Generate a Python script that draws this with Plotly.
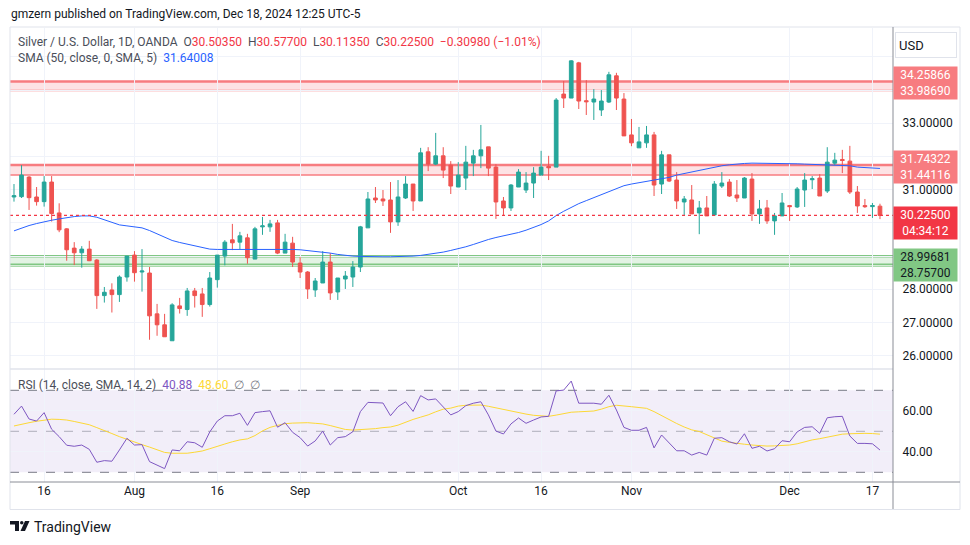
import plotly.graph_objects as go
import pandas as pd

# ---------------- data ----------------
dates = pd.bdate_range("2024-07-10", "2024-12-18")

opens = [30.78, 30.79, 31.38, 30.78, 30.64, 31.23, 30.30, 29.82, 29.24, 29.10,
         29.21, 28.88, 27.81, 27.98, 27.84, 28.37, 29.03, 28.52, 28.49, 27.26,
         26.93, 26.45, 27.50, 27.39, 27.95, 27.86, 27.54, 28.29, 29.00, 29.49,
         29.42, 29.55, 28.91, 29.88, 29.88, 30.00, 29.09, 29.39, 28.79, 28.52,
         27.98, 28.19, 28.82, 27.92, 28.31, 28.37, 28.67, 29.85, 30.75, 30.72,
         30.69, 30.03, 30.75, 31.17, 30.66, 32.14, 31.77, 32.02, 31.74, 31.08,
         31.35, 31.80, 32.02, 32.29, 31.68, 30.66, 30.45, 31.08, 30.99, 31.20,
         31.44, 31.70, 31.68, 33.88, 33.76, 34.82, 33.68, 33.64, 33.40, 33.64,
         34.43, 33.73, 32.65, 32.26, 32.41, 32.65, 31.17, 32.05, 31.29, 30.63,
         30.69, 30.30, 30.45, 30.24, 31.11, 31.23, 30.84, 30.75, 31.32, 30.27,
         30.45, 30.06, 30.21, 30.52, 30.48, 30.99, 31.30, 31.35, 30.96, 31.80,
         31.91, 31.86, 30.93, 30.52, 30.49, 30.5035]
highs = [31.17, 31.74, 31.41, 31.08, 31.41, 31.41, 30.59, 29.84, 29.42, 29.30,
         29.46, 28.91, 28.07, 28.18, 28.42, 29.00, 29.15, 29.21, 28.67, 27.56,
         27.26, 27.58, 27.74, 28.04, 28.04, 28.04, 28.52, 29.03, 29.48, 29.97,
         29.73, 29.67, 29.88, 30.18, 30.09, 30.09, 29.67, 29.58, 28.97, 28.55,
         28.34, 29.15, 29.09, 28.34, 28.55, 28.85, 29.91, 30.93, 31.08, 30.99,
         31.23, 31.29, 31.41, 31.17, 32.26, 32.28, 32.71, 32.28, 31.86, 31.83,
         32.32, 32.20, 32.95, 32.29, 31.77, 30.78, 31.17, 31.62, 31.53, 31.68,
         32.17, 32.02, 33.76, 34.27, 34.90, 34.85, 34.30, 34.03, 34.00, 34.55,
         34.52, 33.91, 33.13, 32.89, 32.92, 32.74, 32.17, 32.05, 31.53, 30.81,
         31.14, 30.66, 30.81, 31.26, 31.53, 31.32, 31.29, 31.38, 31.50, 30.69,
         30.69, 30.30, 30.90, 30.54, 31.08, 31.50, 31.41, 31.47, 32.28, 32.11,
         32.20, 32.32, 31.11, 30.72, 30.60, 30.577]
lows = [30.64, 30.75, 30.39, 30.52, 30.49, 30.04, 29.72, 28.86, 28.73, 28.65,
        28.85, 27.41, 27.60, 27.30, 27.62, 28.23, 28.23, 27.93, 26.48, 26.60,
        26.57, 26.45, 27.27, 27.20, 27.45, 27.17, 27.48, 28.05, 28.72, 29.18,
        29.21, 28.77, 28.91, 29.64, 29.73, 29.06, 29.09, 28.67, 28.34, 27.71,
        27.77, 28.19, 27.68, 27.68, 28.01, 28.07, 28.52, 29.85, 30.60, 30.51,
        29.70, 29.91, 30.72, 30.36, 30.66, 31.56, 31.74, 31.35, 30.87, 31.08,
        30.99, 31.41, 31.65, 31.41, 30.12, 30.21, 30.36, 31.08, 30.90, 30.75,
        31.44, 31.29, 31.68, 33.46, 33.76, 33.43, 33.25, 33.10, 33.22, 33.61,
        33.40, 32.62, 32.31, 32.26, 32.26, 30.81, 30.87, 31.23, 30.42, 30.21,
        30.27, 29.66, 30.21, 30.24, 31.05, 30.78, 30.63, 30.75, 30.06, 29.97,
        29.97, 29.64, 30.21, 30.06, 30.45, 30.48, 31.02, 30.81, 30.90, 31.74,
        31.50, 30.87, 30.30, 30.45, 30.15, 30.1135]
closes = [30.82, 31.44, 30.76, 30.64, 31.23, 30.28, 29.79, 29.19, 29.10, 29.21,
          28.86, 27.81, 27.91, 27.84, 28.37, 29.00, 28.50, 28.55, 27.20, 26.93,
          26.57, 27.53, 27.42, 27.95, 27.81, 27.54, 28.34, 29.03, 29.42, 29.40,
          29.61, 28.95, 29.82, 29.91, 29.97, 29.09, 29.42, 28.82, 28.52, 28.01,
          28.25, 28.82, 27.89, 28.34, 28.40, 28.67, 29.88, 30.72, 30.69, 30.66,
          30.03, 30.78, 31.17, 30.66, 32.11, 31.77, 32.02, 31.59, 31.11, 31.44,
          31.83, 32.02, 32.20, 31.65, 30.63, 30.45, 31.14, 31.53, 31.20, 31.50,
          31.68, 31.66, 33.70, 33.76, 34.88, 33.67, 33.65, 33.73, 33.67, 34.46,
          33.76, 32.62, 32.41, 32.44, 32.65, 31.14, 32.05, 31.26, 30.66, 30.72,
          30.27, 30.45, 30.21, 31.17, 31.20, 30.81, 30.75, 31.35, 30.27, 30.42,
          30.06, 30.21, 30.60, 30.49, 31.02, 31.29, 31.33, 30.81, 31.83, 31.89,
          31.88, 30.93, 30.51, 30.49, 30.52, 30.225]

sma50 = [29.76, 29.85, 29.92, 29.98, 30.04, 30.08, 30.12, 30.16, 30.19, 30.21,
         30.21, 30.17, 30.10, 30.02, 29.94, 29.91, 29.88, 29.85, 29.77, 29.67,
         29.55, 29.47, 29.41, 29.36, 29.30, 29.25, 29.21, 29.20, 29.20, 29.21,
         29.21, 29.22, 29.22, 29.22, 29.22, 29.21, 29.21, 29.20, 29.19, 29.17,
         29.15, 29.12, 29.09, 29.05, 29.02, 29.00, 28.99, 28.98, 28.98, 28.98,
         28.98, 28.98, 28.99, 29.00, 29.02, 29.05, 29.08, 29.12, 29.17, 29.22,
         29.28, 29.35, 29.43, 29.50, 29.56, 29.61, 29.65, 29.71, 29.78, 29.86,
         29.95, 30.06, 30.22, 30.35, 30.47, 30.58, 30.67, 30.76, 30.85, 30.95,
         31.05, 31.12, 31.17, 31.21, 31.24, 31.27, 31.31, 31.37, 31.44, 31.49,
         31.54, 31.58, 31.63, 31.68, 31.72, 31.75, 31.78, 31.79, 31.80, 31.80,
         31.80, 31.80, 31.79, 31.79, 31.78, 31.77, 31.76, 31.75, 31.75, 31.74,
         31.74, 31.72, 31.68, 31.66, 31.65, 31.64008]

rsi = [58.3, 62.3, 56.0, 55.0, 59.1, 51.0, 47.4, 43.2, 42.7, 43.3,
       41.2, 34.9, 35.7, 35.4, 40.9, 46.6, 43.3, 43.5, 35.2, 33.6,
       31.8, 40.9, 40.5, 44.9, 44.4, 42.2, 49.7, 55.0, 57.6, 57.6,
       58.8, 52.9, 59.1, 59.6, 60.0, 52.0, 54.2, 49.5, 46.9, 42.8,
       45.3, 50.1, 43.3, 46.9, 47.4, 49.8, 59.6, 64.1, 64.1, 63.8,
       57.6, 62.0, 64.4, 59.7, 67.4, 65.3, 65.8, 62.0, 58.0, 59.6,
       62.5, 63.7, 64.4, 58.0, 50.1, 48.7, 53.6, 56.5, 53.9, 55.5,
       57.0, 57.3, 69.7, 70.1, 74.5, 63.7, 63.7, 63.7, 63.2, 67.6,
       60.4, 51.9, 50.5, 50.5, 51.9, 41.9, 48.2, 44.1, 40.5, 40.5,
       38.4, 39.7, 38.4, 46.6, 46.9, 44.9, 43.8, 48.8, 41.7, 42.7,
       40.4, 41.5, 45.4, 44.9, 49.7, 51.9, 52.2, 49.0, 56.6, 57.1,
       57.3, 47.7, 44.1, 44.1, 43.9, 40.88]

rsi_sma = [52.6, 53.5, 54.2, 54.9, 55.5, 55.9, 55.8, 55.5, 54.8, 54.0,
           53.2, 51.8, 50.2, 48.9, 47.4, 46.0, 44.6, 43.5, 42.3, 41.0,
           39.7, 39.3, 39.3, 39.3, 39.8, 40.4, 41.5, 42.8, 43.8, 44.9,
           45.8, 46.3, 47.9, 50.2, 51.9, 52.9, 53.7, 54.0, 54.2, 54.2,
           53.9, 53.6, 52.8, 51.8, 50.9, 50.6, 50.8, 51.0, 51.3, 51.8,
           52.1, 53.0, 54.5, 55.8, 56.9, 58.0, 59.5, 60.8, 61.3, 62.3,
           62.7, 62.8, 62.8, 62.2, 61.4, 60.7, 60.0, 59.1, 58.4, 57.8,
           57.4, 57.3, 57.9, 58.6, 59.3, 59.5, 59.6, 59.9, 60.8, 62.0,
           62.7, 62.5, 62.0, 61.6, 61.2, 59.6, 57.6, 55.6, 53.8, 52.1,
           50.7, 49.9, 48.3, 46.5, 45.2, 44.6, 44.0, 43.7, 43.3, 42.9,
           42.8, 42.9, 43.1, 43.3, 43.9, 45.0, 45.8, 46.4, 47.2, 48.0,
           48.6, 48.8, 49.0, 49.0, 48.9, 48.60]

tick_dates = ["2024-07-16", "2024-08-01", "2024-08-16", "2024-09-02", "2024-10-01",
              "2024-10-16", "2024-11-01", "2024-12-02", "2024-12-17"]
tick_labels = ["16", "Aug", "16", "Sep", "Oct", "16", "Nov", "Dec", "17"]

price_ticks = [26, 27, 28, 29, 30, 31, 32, 33, 34, 35]
price_tick_labels = ["26.00000", "27.00000", "28.00000", "", "", "31.00000", "", "33.00000", "", ""]
rsi_ticks = [40, 60]
rsi_tick_labels = ["40.00", "60.00"]
rsi_levels = [70, 50, 30]

resist_hi = [34.25866, 33.98690]
resist_mid = [31.74322, 31.44116]
support = [28.99681, 28.75700]
countdown = "04:34:12"
sma_value = "31.64008"
change_text = "\u22120.30980 (\u22121.01%)"

# ---------------- layout helpers ----------------
W, H = 970, 545
L, R, T, B = 10, 893, 28, 482
PX_PER_UNIT = 33.2
def px(x):
    return (x - L) / (R - L)
def py(y):
    return (B - y) / (B - T)

idx = list(range(len(dates)))
date_str = [d.strftime("%Y-%m-%d") for d in dates]
tickvals = [date_str.index(d) for d in tick_dates]

GREEN = "#26a69a"
RED = "#ef5350"
PINK = "#f77c80"
LGREEN = "#81c784"
TXT = "#131722"
GRID = "#f0f3fa"
FONT = "Roboto"

split = py(370)

fig = go.Figure()
fig.add_trace(go.Candlestick(
    x=idx, open=opens, high=highs, low=lows, close=closes,
    increasing=dict(line=dict(color=GREEN, width=1), fillcolor=GREEN),
    decreasing=dict(line=dict(color=RED, width=1), fillcolor=RED),
    whiskerwidth=0, xaxis="x", yaxis="y", showlegend=False, hoverinfo="skip"))
fig.add_trace(go.Scatter(x=idx, y=sma50, mode="lines", line=dict(color="#2962ff", width=1),
                         xaxis="x", yaxis="y", showlegend=False, hoverinfo="skip"))
fig.add_trace(go.Scatter(x=idx, y=rsi_sma, mode="lines", line=dict(color="#fdd835", width=1),
                         xaxis="x", yaxis="y2", showlegend=False, hoverinfo="skip"))
fig.add_trace(go.Scatter(x=idx, y=rsi, mode="lines", line=dict(color="#7e57c2", width=1),
                         xaxis="x", yaxis="y2", showlegend=False, hoverinfo="skip"))

shapes = []
# zones
for lv, fillc, linec in [(resist_hi, "rgba(242,54,69,0.14)", PINK),
                         (resist_mid, "rgba(242,54,69,0.14)", PINK),
                         (support, "rgba(129,199,132,0.22)", LGREEN)]:
    shapes.append(dict(type="rect", xref="x domain", yref="y", x0=0, x1=1, y0=lv[1], y1=lv[0],
                       fillcolor=fillc, line=dict(width=0), layer="below"))
    shapes.append(dict(type="line", xref="x domain", yref="y", x0=0, x1=1, y0=lv[0], y1=lv[0],
                       line=dict(color=linec, width=2.5), layer="below"))
    shapes.append(dict(type="line", xref="x domain", yref="y", x0=0, x1=1, y0=lv[1], y1=lv[1],
                       line=dict(color=linec, width=1.5), layer="below"))
extra = support[1] - 2 / PX_PER_UNIT
shapes.append(dict(type="line", xref="x domain", yref="y", x0=0, x1=1, y0=extra, y1=extra,
                   line=dict(color=LGREEN, width=1), layer="below"))
# last price dotted line
shapes.append(dict(type="line", xref="x domain", yref="y", x0=0, x1=1, y0=closes[-1], y1=closes[-1],
                   line=dict(color="#f23645", width=1.2, dash="dot"), layer="above"))
# RSI band
shapes.append(dict(type="rect", xref="x domain", yref="y2", x0=0, x1=1, y0=rsi_levels[2], y1=rsi_levels[0],
                   fillcolor="rgba(126,87,194,0.1)", line=dict(width=0), layer="below"))
for lv, c in zip(rsi_levels, ["#787b86", "rgba(120,123,134,0.55)", "#787b86"]):
    shapes.append(dict(type="line", xref="x domain", yref="y2", x0=0, x1=1, y0=lv, y1=lv,
                       line=dict(color=c, width=1, dash="dash"), layer="below"))
# frame lines
shapes.append(dict(type="rect", xref="paper", yref="paper", x0=px(10), x1=px(960), y0=py(509.5), y1=py(27),
                   line=dict(color="#e0e3eb", width=1), layer="above"))
shapes.append(dict(type="line", xref="paper", yref="paper", x0=px(10), x1=px(893), y0=py(369), y1=py(369),
                   line=dict(color="#e0e3eb", width=1.5), layer="above"))
shapes.append(dict(type="line", xref="paper", yref="paper", x0=px(893), x1=px(893), y0=py(509), y1=py(27),
                   line=dict(color="#8a8d96", width=1), layer="above"))
shapes.append(dict(type="line", xref="paper", yref="paper", x0=px(10), x1=px(960), y0=py(482), y1=py(482),
                   line=dict(color="#8a8d96", width=1), layer="above"))
# TradingView logo glyph
shapes.append(dict(type="path", xref="paper", yref="paper",
                   path=f"M {px(10)},{py(521)} L {px(19)},{py(521)} L {px(19)},{py(531)} L {px(15)},{py(531)} L {px(15)},{py(524.5)} L {px(10)},{py(524.5)} Z",
                   fillcolor="#131722", line=dict(width=0)))
shapes.append(dict(type="circle", xref="paper", yref="paper", x0=px(20), x1=px(23.5), y0=py(521), y1=py(524.5),
                   fillcolor="#131722", line=dict(width=0)))
shapes.append(dict(type="path", xref="paper", yref="paper",
                   path=f"M {px(25)},{py(521)} L {px(29.5)},{py(521)} L {px(25)},{py(531)} L {px(20.5)},{py(531)} Z",
                   fillcolor="#131722", line=dict(width=0)))

annotations = []
def ann(x, y, text, size=12, color=TXT, anchor="left", **kw):
    d = dict(xref="paper", yref="paper", x=px(x), y=py(y), text=text, showarrow=False,
             xanchor=anchor, yanchor="middle", font=dict(family=FONT, size=size, color=color))
    d.update(kw)
    annotations.append(d)

sp = "\u00a0"
redspan = lambda t: f'<span style="color:#f23645">{t}</span>'
ann(9, 14, "gmzern published on TradingView.com, Dec 18, 2024 12:25 UTC-5", size=12)
leg1 = ("Silver / U.S. Dollar, 1D, OANDA" + sp * 2 +
        "O" + redspan(f"{opens[-1]:.5f}") + sp * 2 +
        "H" + redspan(f"{highs[-1]:.5f}") + sp * 2 +
        "L" + redspan(f"{lows[-1]:.5f}") + sp * 2 +
        "C" + redspan(f"{closes[-1]:.5f}") + sp * 2 +
        redspan(change_text))
ann(16, 42, leg1, size=12, color="#4a4e59")
ann(16, 58, "SMA (50, close, 0, SMA, 5)" + sp * 2 + f'<span style="color:#2962ff">{sma_value}</span>',
    size=12, color="#4a4e59")
ann(16, 385, "RSI (14, close, SMA, 14, 2)" + sp * 2 +
    f'<span style="color:#7e57c2">{rsi[-1]:.2f}</span>' + sp * 2 +
    f'<span style="color:#fdd835">{rsi_sma[-1]:.2f}</span>' + sp * 2 +
    '<span style="color:#787b86">\u2205' + sp * 2 + '\u2205</span>', size=12, color="#4a4e59")
ann(32, 527, "TradingView", size=14)
# USD button
ann(926, 44.5, "USD", size=13, anchor="center", bgcolor="white", bordercolor="#e0e3eb",
    borderwidth=1, borderpad=3, width=54, height=18, align="left")

# price boxes on right axis
def pbox(level_vals, text, bg, fc, shift, yref="y"):
    annotations.append(dict(xref="paper", yref=yref, x=1, y=sum(level_vals) / len(level_vals),
                            text=text, showarrow=False, xanchor="left", yanchor="middle",
                            yshift=shift, xshift=0, bgcolor=bg, width=63, height=32, borderpad=0,
                            align="center", font=dict(family=FONT, size=12, color=fc)))
pbox(resist_hi, f"{resist_hi[0]:.5f}<br>{resist_hi[1]:.5f}", PINK, "white", 3)
pbox(resist_mid, f"{resist_mid[0]:.5f}<br>{resist_mid[1]:.5f}", PINK, "white", 3.3)
pbox([closes[-1]], f"{closes[-1]:.5f}<br>{countdown}", "#f23645", "white", -7.6)
pbox(support, f"{support[0]:.5f}<br>{support[1]:.5f}", LGREEN, TXT, -4.6)

fig.update_layout(
    width=W, height=H,
    margin=dict(l=L, r=W - R, t=T, b=H - B),
    paper_bgcolor="white", plot_bgcolor="white",
    font=dict(family=FONT, size=12, color=TXT),
    showlegend=False,
    xaxis=dict(range=[-0.53, 116.73], domain=[0, 1], anchor="y2",
               tickvals=tickvals, ticktext=tick_labels, showgrid=True, gridcolor=GRID, gridwidth=1,
               zeroline=False, showline=False, ticks="", tickfont=dict(size=12, color=TXT, family=FONT),
               rangeslider=dict(visible=False), fixedrange=True),
    yaxis=dict(domain=[split, 1], range=[25.569, 35.870], side="right", anchor="x",
               tickvals=price_ticks, ticktext=price_tick_labels, showgrid=True, gridcolor=GRID,
               zeroline=False, showline=False, ticks="outside", ticklen=6, tickcolor="rgba(0,0,0,0)",
               tickfont=dict(size=12, color=TXT, family=FONT)),
    yaxis2=dict(domain=[0, split], range=[25.27, 79.90], side="right", anchor="x",
                tickvals=rsi_ticks, ticktext=rsi_tick_labels, showgrid=True, gridcolor=GRID,
                zeroline=False, showline=False, ticks="outside", ticklen=6, tickcolor="rgba(0,0,0,0)",
                tickfont=dict(size=12, color=TXT, family=FONT)),
    shapes=shapes, annotations=annotations,
)

fig.write_html("out.html", config={"displayModeBar": False},
               post_script="document.body.style.margin='0';document.body.style.padding='0';")
